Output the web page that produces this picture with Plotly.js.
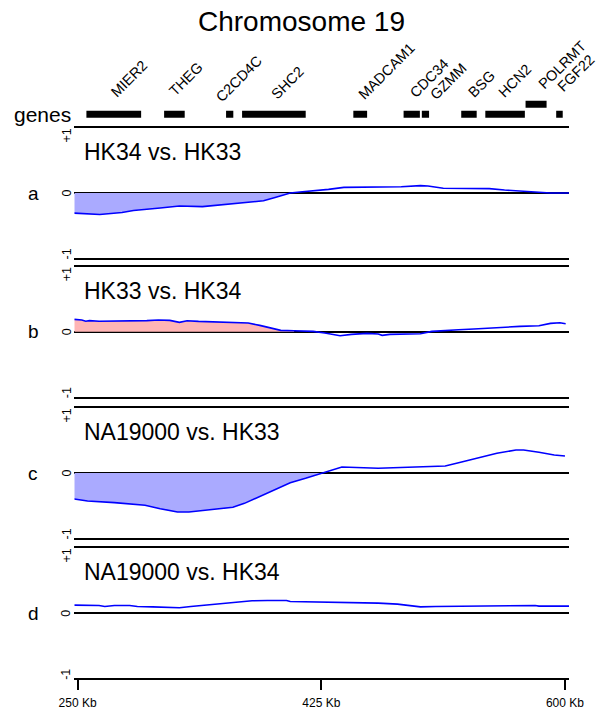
<!DOCTYPE html>
<html>
<head>
<meta charset="utf-8">
<script src="https://cdn.plot.ly/plotly-3.0.1.min.js"></script>
<style>
  html, body { margin: 0; padding: 0; background: #fff; }
  #chart { width: 600px; height: 721px; }
</style>
</head>
<body>
<div id="chart"></div>
<script>
// ---------------------------------- data ----------------------------------//

var geneNames = ['MIER2', 'THEG', 'C2CD4C', 'SHC2', 'MADCAM1', 'CDC34', 'GZMM', 'BSG', 'HCN2', 'POLRMT', 'FGF22'];
var geneStart = [256.3, 312.1, 356.6, 368.1, 448.0, 484.1, 497.2, 525.5, 542.8, 571.7, 593.7];
var geneEnd = [295.6, 326.9, 361.8, 413.8, 457.9, 495.8, 502.4, 536.6, 571.2, 586.8, 598.4];
var geneRow = [0, 0, 0, 0, 0, 0, 0, 0, 0, 1, 0];

var panelLetters = ['a', 'b', 'c', 'd'];
var panelTitles = ['HK34 vs. HK33', 'HK33 vs. HK34', 'NA19000 vs. HK33', 'NA19000 vs. HK34'];

var posA = [247.6, 264.0, 265.9, 281.9, 290.1, 309.3, 323.1, 339.6, 353.3, 369.8, 383.5, 391.8, 402.7, 409.6, 419.2, 430.2, 441.2, 454.9, 468.7, 482.4, 496.2, 501.6, 512.6, 523.6, 545.6, 556.6, 573.1, 589.6, 602.9];
var valA = [-0.31, -0.32, -0.33, -0.30, -0.27, -0.23, -0.20, -0.21, -0.18, -0.15, -0.12, -0.07, 0.0, 0.015, 0.03, 0.056, 0.087, 0.087, 0.097, 0.097, 0.113, 0.108, 0.072, 0.067, 0.067, 0.046, 0.026, 0.0, 0.0];

var posB = [247.6, 253.0, 255.8, 258.5, 265.4, 276.4, 299.7, 308.0, 316.2, 323.1, 328.6, 336.8, 347.8, 358.8, 372.5, 380.8, 389.0, 395.9, 405.5, 419.2, 427.5, 438.5, 446.7, 457.7, 465.9, 468.7, 474.2, 485.2, 496.2, 504.4, 512.6, 523.6, 534.6, 545.6, 556.6, 567.6, 581.3, 589.6, 596.4, 600.5];
var valB = [0.19, 0.18, 0.16, 0.17, 0.16, 0.16, 0.17, 0.18, 0.174, 0.144, 0.169, 0.159, 0.154, 0.144, 0.133, 0.097, 0.051, 0.021, 0.015, 0.005, -0.021, -0.062, -0.041, -0.026, -0.036, -0.056, -0.041, -0.036, -0.031, 0.005, 0.021, 0.031, 0.041, 0.056, 0.072, 0.082, 0.092, 0.128, 0.138, 0.123];

var posC = [247.6, 257.1, 276.4, 298.4, 309.3, 321.7, 329.9, 347.8, 361.5, 369.8, 383.5, 402.7, 413.7, 424.7, 433.0, 439.8, 465.9, 482.4, 496.2, 514.0, 523.6, 540.1, 551.1, 564.8, 570.3, 581.3, 592.3, 600.0];
var valC = [-0.40, -0.43, -0.456, -0.497, -0.549, -0.60, -0.60, -0.559, -0.528, -0.467, -0.338, -0.149, -0.082, -0.005, 0.046, 0.092, 0.072, 0.082, 0.092, 0.108, 0.159, 0.251, 0.303, 0.354, 0.354, 0.318, 0.277, 0.262];

var posD = [247.6, 265.4, 269.5, 276.4, 287.4, 292.9, 303.8, 314.8, 323.1, 331.3, 347.8, 364.3, 375.3, 386.3, 400.0, 402.7, 419.2, 435.7, 452.2, 465.9, 479.7, 490.7, 496.2, 507.1, 523.6, 540.1, 556.6, 567.6, 578.6, 581.3, 602.9];
var valD = [0.123, 0.118, 0.103, 0.118, 0.118, 0.103, 0.097, 0.082, 0.082, 0.103, 0.133, 0.174, 0.190, 0.195, 0.195, 0.179, 0.174, 0.174, 0.169, 0.154, 0.138, 0.108, 0.097, 0.103, 0.108, 0.108, 0.113, 0.123, 0.118, 0.108, 0.108];

// shaded stretch of each panel (start, end in Kb), null = no shading
var shadeStart = [247.6, 247.6, 247.6, null];
var shadeEnd = [402.7, 405.5, 424.7, null];

var xTickVals = [250, 425, 600];
var xTickText = ['250 Kb', '425 Kb', '600 Kb'];

// ---------------------------------- layout helpers ----------------------------------//

var W = 600, H = 721;
var FONT = 'Liberation Sans, Arial, Helvetica, sans-serif';
var plotLeft = 74.3, plotRight = 569;
var xRange = [247.6, 602.9];
// top (+1) and bottom (-1) of each panel in pixels
var panelTop = [128, 266.7, 408, 548];
var panelBottom = [258, 396.7, 538, 678.3];
var shadeColors = ['#aaaaff', '#ffb5b5', '#aaaaff', null];
// small nudges for the slanted gene labels (px)
var labelShiftX = [-9, -11, -20, -9, -8, -8, -1, -7, -13, -4, -8];
var labelShiftY = [1, 2, -4, -1, -1, 1, -1, 1, 1, 9, 7];

var posList = [posA, posB, posC, posD];
var valList = [valA, valB, valC, valD];

function pxDomain(top, bottom) {
    return [1 - bottom / H, 1 - top / H];
}

var traces = [];
var layout = {
    width: W,
    height: H,
    margin: { l: 0, r: 0, t: 0, b: 0 },
    paper_bgcolor: '#fff',
    plot_bgcolor: 'rgba(0,0,0,0)',
    showlegend: false,
    font: { family: FONT, color: '#000' },
    annotations: []
};

var xDomain = [plotLeft / W, plotRight / W];

posList.forEach(function (pos, i) {
    var n = i + 1;
    var xa = n == 1 ? 'x' : 'x' + n;
    var ya = n == 1 ? 'y' : 'y' + n;
    var vals = valList[i];

    if (shadeColors[i]) {
        var sx = [], sy = [];
        pos.forEach(function (p, k) {
            if (p >= shadeStart[i] && p <= shadeEnd[i]) {
                sx.push(p);
                sy.push(vals[k]);
            }
        });
        traces.push({
            x: sx, y: sy, xaxis: xa, yaxis: ya,
            type: 'scatter', mode: 'lines',
            line: { width: 0, color: shadeColors[i] },
            fill: 'tozeroy', fillcolor: shadeColors[i],
            hoverinfo: 'skip'
        });
    }

    traces.push({
        x: pos, y: vals, xaxis: xa, yaxis: ya,
        type: 'scatter', mode: 'lines',
        line: { color: '#0000ff', width: 1.6 },
        hoverinfo: 'skip'
    });

    var xaxis = {
        domain: xDomain,
        range: xRange,
        anchor: ya,
        showline: true,
        mirror: true,
        linecolor: '#000',
        linewidth: 2,
        showgrid: false,
        zeroline: false,
        ticks: '',
        showticklabels: false
    };
    if (n == 4) {
        xaxis.ticks = 'outside';
        xaxis.ticklen = 10;
        xaxis.tickwidth = 2;
        xaxis.tickcolor = '#000';
        xaxis.tickmode = 'array';
        xaxis.tickvals = xTickVals;
        xaxis.ticktext = xTickText;
        xaxis.showticklabels = true;
        xaxis.tickfont = { size: 12, family: FONT, color: '#000' };
        xaxis.ticklabelstandoff = 2;
    }
    layout[n == 1 ? 'xaxis' : 'xaxis' + n] = xaxis;

    layout[n == 1 ? 'yaxis' : 'yaxis' + n] = {
        domain: pxDomain(panelTop[i], panelBottom[i]),
        range: [-1, 1],
        anchor: xa,
        showline: false,
        showgrid: false,
        showticklabels: false,
        ticks: '',
        zeroline: true,
        zerolinecolor: '#000',
        zerolinewidth: 2
    };

    // panel letter
    layout.annotations.push({
        text: panelLetters[i], xref: 'paper', yref: ya, x: 33 / W, y: 0,
        xanchor: 'center', yanchor: 'middle', showarrow: false,
        font: { size: 19, family: FONT }
    });
    // panel title
    layout.annotations.push({
        text: panelTitles[i], xref: 'paper', yref: ya, x: 82 / W, y: 1,
        xanchor: 'left', yanchor: 'middle', yshift: -24, showarrow: false,
        font: { size: 23, family: FONT }
    });
    // y labels, turned on their side
    [[1, '+1', -8], [0, '0', 0], [-1, '-1', 4]].forEach(function (t) {
        layout.annotations.push({
            text: t[1], xref: 'paper', yref: ya, x: 66.5 / W, y: t[0],
            xanchor: 'center', yanchor: 'middle', yshift: t[2],
            textangle: -90, showarrow: false,
            font: { size: 12.5, family: FONT }
        });
    });
});

// ---------------------------------- gene track ----------------------------------//

var geneLen = geneStart.map(function (s, k) { return geneEnd[k] - s; });

traces.push({
    type: 'bar',
    orientation: 'h',
    base: geneStart,
    x: geneLen,
    y: geneRow,
    width: 0.7,
    xaxis: 'x5',
    yaxis: 'y5',
    marker: { color: '#000', line: { width: 0 } },
    hoverinfo: 'skip'
});

layout.xaxis5 = {
    domain: xDomain, range: xRange, anchor: 'y5', visible: false
};
layout.yaxis5 = {
    domain: pxDomain(99.3, 119.3), range: [-0.5, 1.5], anchor: 'x5', visible: false
};

geneNames.forEach(function (g, k) {
    layout.annotations.push({
        text: g, xref: 'x5', yref: 'paper',
        x: (geneStart[k] + geneEnd[k]) / 2, y: 1 - 104 / H,
        xanchor: 'left', yanchor: 'bottom',
        xshift: labelShiftX[k], yshift: labelShiftY[k],
        textangle: -45, showarrow: false,
        font: { size: 14.5, family: FONT }
    });
});

layout.annotations.push({
    text: 'genes', xref: 'paper', yref: 'paper', x: 12 / W, y: 1 - 114 / H,
    xanchor: 'left', yanchor: 'middle', showarrow: false,
    font: { size: 21, family: FONT }
});

layout.annotations.push({
    text: 'Chromosome 19', xref: 'paper', yref: 'paper', x: 301 / W, y: 1 - 22 / H,
    xanchor: 'center', yanchor: 'middle', showarrow: false,
    font: { size: 28, family: FONT }
});

Plotly.newPlot('chart', traces, layout, { staticPlot: true, displayModeBar: false });
</script>
</body>
</html>
